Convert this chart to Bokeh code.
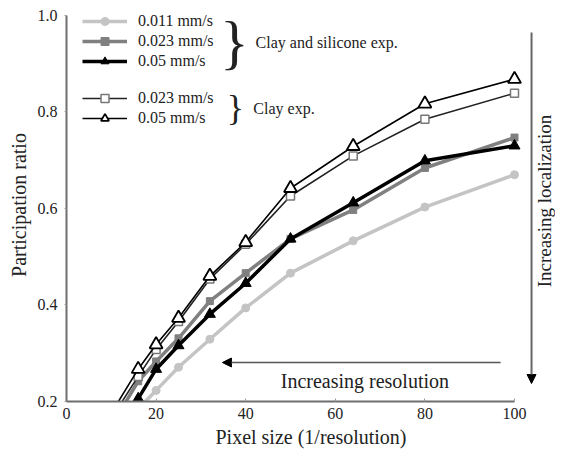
import math
from bokeh.plotting import figure
from bokeh.models import (Legend, LegendItem, Label, Arrow, NormalHead,
                          FixedTicker, PrintfTickFormatter, Range1d)
from bokeh.embed import file_html
from bokeh.resources import INLINE

# ---- data ----
pixel_size = [10, 16, 20, 25, 32, 40, 50, 64, 80, 100]
cs_011 = [0.100, 0.185, 0.223, 0.271, 0.329, 0.394, 0.466, 0.533, 0.603, 0.670]
cs_023 = [0.149, 0.242, 0.283, 0.331, 0.408, 0.466, 0.537, 0.597, 0.684, 0.747]
cs_05 = [0.115, 0.206, 0.267, 0.316, 0.381, 0.445, 0.537, 0.612, 0.699, 0.730]
clay_023 = [0.165, 0.252, 0.308, 0.366, 0.454, 0.526, 0.626, 0.709, 0.785, 0.839]
clay_05 = [0.176, 0.267, 0.318, 0.373, 0.460, 0.530, 0.642, 0.729, 0.817, 0.868]

group1_labels = ["0.011 mm/s", "0.023 mm/s", "0.05 mm/s"]
group2_labels = ["0.023 mm/s", "0.05 mm/s"]
x_ticks = [0, 20, 40, 60, 80, 100]
y_ticks = [0.2, 0.4, 0.6, 0.8, 1.0]

FONT = "Liberation Serif"
TXT = "#222222"

p = figure(width=555, height=452, x_range=Range1d(0, 109.15),
           y_range=Range1d(0.2, 1.0145), output_backend="svg",
           toolbar_location=None, min_border_left=66, min_border_right=0,
           min_border_top=8, min_border_bottom=51)
p.grid.visible = False
p.outline_line_color = None
p.background_fill_color = "white"

# axes
p.xaxis.bounds = (0, 100)
p.yaxis.bounds = (0.2, 1.0)
p.xaxis.ticker = FixedTicker(ticks=x_ticks)
p.yaxis.ticker = FixedTicker(ticks=y_ticks)
p.yaxis.formatter = PrintfTickFormatter(format="%.1f")
for ax in (p.xaxis, p.yaxis):
    ax.axis_line_color = "#6e6e6e"
    ax.axis_line_width = 2
    ax.major_tick_line_color = "#9a9a9a"
    ax.minor_tick_line_color = None
    ax.major_label_text_font = FONT
    ax.major_label_text_font_size = "16px"
    ax.major_label_text_color = TXT
    ax.axis_label_text_font = FONT
    ax.axis_label_text_font_size = "20px"
    ax.axis_label_text_font_style = "normal"
    ax.axis_label_text_color = TXT
p.xaxis.major_tick_in = 3
p.xaxis.major_tick_out = 0
p.yaxis.major_tick_in = 0
p.yaxis.major_tick_out = 2
p.xaxis.major_label_standoff = 6
p.yaxis.major_label_standoff = 7
p.xaxis.axis_label = "Pixel size (1/resolution)"
p.yaxis.axis_label = "Participation ratio"
p.xaxis.axis_label_standoff = 4
p.yaxis.axis_label_standoff = 5

# series
l1 = p.line(pixel_size, cs_011, line_color="#c4c4c4", line_width=3.5)
s1 = p.scatter(pixel_size, cs_011, marker="circle", size=8,
               fill_color="#c4c4c4", line_color="#c4c4c4")
l2 = p.line(pixel_size, cs_023, line_color="#808080", line_width=3.5)
s2 = p.scatter(pixel_size, cs_023, marker="square", size=7,
               fill_color="#808080", line_color="#808080")
l3 = p.line(pixel_size, cs_05, line_color="black", line_width=3.5)
s3 = p.scatter(pixel_size, cs_05, marker="triangle", size=11,
               fill_color="black", line_color="black")
l4 = p.line(pixel_size, clay_023, line_color="#222222", line_width=1.6)
s4 = p.scatter(pixel_size, clay_023, marker="square", size=8,
               fill_color="white", line_color="#777777", line_width=1.5)
l5 = p.line(pixel_size, clay_05, line_color="black", line_width=1.6)
s5 = p.scatter(pixel_size, clay_05, marker="triangle", size=13,
               fill_color="white", line_color="black", line_width=1.8)

# legends
def make_legend(labels, rends, loc):
    items = [LegendItem(label=lab, renderers=list(r)) for lab, r in zip(labels, rends)]
    return Legend(items=items, location=loc, orientation="vertical",
                  padding=0, margin=0, spacing=0, glyph_width=45,
                  glyph_height=20, label_height=20, label_standoff=11,
                  label_text_font=FONT, label_text_font_size="16px",
                  label_text_color=TXT, border_line_color=None,
                  background_fill_alpha=0)

leg1 = make_legend(group1_labels, [(l1, s1), (l2, s2), (l3, s3)], (16, 330))
leg2 = make_legend(group2_labels, [(l4, s4), (l5, s5)], (16, 273))
p.add_layout(leg1)
p.add_layout(leg2)

# braces and group labels
p.add_layout(Label(x=37.5, y=0.946, text="}", text_font=FONT,
                   text_font_size="60px", text_align="center",
                   text_baseline="middle", text_color=TXT))
p.add_layout(Label(x=37.7, y=0.8093, text="}", text_font=FONT,
                   text_font_size="36px", text_align="center",
                   text_baseline="middle", text_color=TXT))
p.add_layout(Label(x=42.2, y=0.944, text="Clay and silicone exp.",
                   text_font=FONT, text_font_size="16px", text_align="left",
                   text_baseline="middle", text_color=TXT))
p.add_layout(Label(x=41.7, y=0.807, text="Clay exp.",
                   text_font=FONT, text_font_size="16px", text_align="left",
                   text_baseline="middle", text_color=TXT))

# resolution arrow
p.add_layout(Arrow(x_start=96.9, y_start=0.2808, x_end=34.8, y_end=0.2808,
                   line_color="#555555", line_width=1.6,
                   end=NormalHead(size=9, fill_color="black",
                                  line_color="black")))
p.add_layout(Label(x=66.6, y=0.2435, text="Increasing resolution",
                   text_font=FONT, text_font_size="20px", text_align="center",
                   text_baseline="middle", text_color=TXT))

# localization arrow
p.add_layout(Arrow(x_start=103.8, y_start=0.9648, x_end=103.8, y_end=0.2373,
                   line_color="#666666", line_width=2,
                   end=NormalHead(size=9, fill_color="black",
                                  line_color="black")))
p.add_layout(Label(x=106.7, y=0.6156, text="Increasing localization",
                   text_font=FONT, text_font_size="19px", text_align="center",
                   text_baseline="middle", angle=math.pi / 2,
                   text_color=TXT))

open("out.html", "w").write(file_html(p, INLINE))
